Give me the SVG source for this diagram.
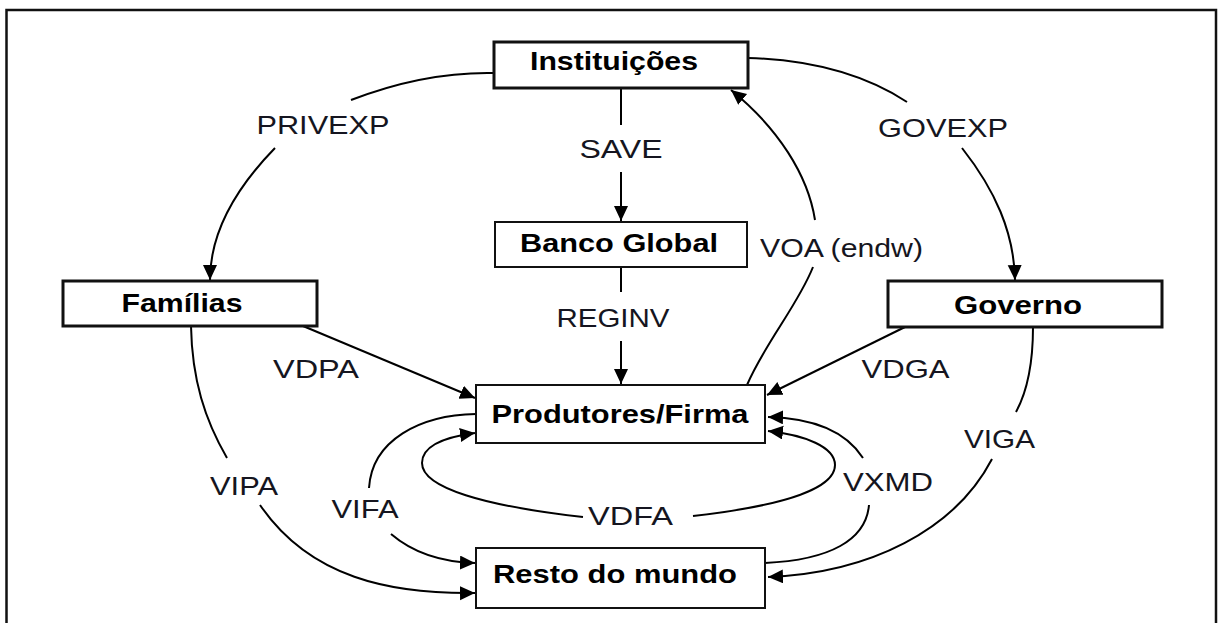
<svg xmlns="http://www.w3.org/2000/svg" width="1218" height="623" viewBox="0 0 1218 623">
<defs>
<marker id="ah" markerUnits="userSpaceOnUse" markerWidth="18" markerHeight="16" refX="15" refY="7" orient="auto">
<path d="M0,0 L15,7 L0,14 z" fill="#000"/>
</marker>
<style>
.frame{fill:none;stroke:#111;stroke-width:2.5}
.box{fill:#fff;stroke:#111;stroke-width:2}
.box.thick{stroke-width:3}
.nt{font-family:"Liberation Sans",Arial,sans-serif;font-weight:bold;font-size:26px;fill:#000;text-anchor:middle}
.lb{font-family:"Liberation Sans",Arial,sans-serif;font-size:26px;fill:#151520;text-anchor:middle}
.c{fill:none;stroke:#000;stroke-width:2}
.c.a{marker-end:url(#ah)}
</style>
</defs>
<rect width="1218" height="623" fill="#fff"/>
<path class="frame" d="M6.5,623 L6.5,10 L1216,10 L1216,623"/>

<g id="connectors">
<!-- PRIVEXP -->
<path class="c" d="M494,73 C445,72 395,83 351,100"/>
<path class="c a" d="M275,148 C238,186 210,230 210,280"/>
<!-- GOVEXP -->
<path class="c" d="M748,58 C820,60 870,78 907,102"/>
<path class="c a" d="M962,148 C995,190 1014,232 1015,280"/>
<!-- SAVE -->
<path class="c" d="M621,88 L621,125"/>
<path class="c a" d="M621,172 L621,221"/>
<!-- REGINV -->
<path class="c" d="M621,267 L621,292"/>
<path class="c a" d="M621,341 L621,384"/>
<!-- VOA -->
<path class="c" d="M747,385 C765,343 798,305 813,267"/>
<path class="c a" d="M815,220 C808,175 778,128 731,90"/>
<!-- VDPA -->
<path class="c a" d="M303,326 L475,398"/>
<!-- VDGA -->
<path class="c a" d="M905,327 L767,395"/>
<!-- VIPA -->
<path class="c" d="M191,326 C192,380 205,420 227,458"/>
<path class="c a" d="M260,505 C310,578 390,594 475,593"/>
<!-- VIFA -->
<path class="c" d="M476,414 C420,415 372,440 369,488"/>
<path class="c a" d="M391,534 C412,552 440,562 475,563"/>
<!-- VDFA loop -->
<path class="c a" d="M583,517 C485,506 422,488 422,463 C422,446 445,437 475,433"/>
<path class="c a" d="M693,516 C790,505 835,487 835,465 C835,447 805,435 768,431"/>
<!-- VXMD -->
<path class="c a" d="M863,458 C845,430 810,418 768,417"/>
<path class="c" d="M765,563 C830,560 866,540 869,505"/>
<!-- VIGA -->
<path class="c" d="M1033,327 C1033,360 1028,390 1016,412"/>
<path class="c a" d="M992,459 C955,530 870,573 768,577"/>
</g>

<g id="labels">
<text class="lb" x="323" y="134" textLength="133" lengthAdjust="spacingAndGlyphs">PRIVEXP</text>
<text class="lb" x="621" y="158" textLength="83" lengthAdjust="spacingAndGlyphs">SAVE</text>
<text class="lb" x="943" y="137" textLength="130" lengthAdjust="spacingAndGlyphs">GOVEXP</text>
<text class="lb" x="841.5" y="257" textLength="163" lengthAdjust="spacingAndGlyphs">VOA (endw)</text>
<text class="lb" x="613" y="327" textLength="113" lengthAdjust="spacingAndGlyphs">REGINV</text>
<text class="lb" x="316" y="378" textLength="86" lengthAdjust="spacingAndGlyphs">VDPA</text>
<text class="lb" x="905.5" y="378" textLength="88" lengthAdjust="spacingAndGlyphs">VDGA</text>
<text class="lb" x="999.5" y="448" textLength="71" lengthAdjust="spacingAndGlyphs">VIGA</text>
<text class="lb" x="244" y="495" textLength="68" lengthAdjust="spacingAndGlyphs">VIPA</text>
<text class="lb" x="365" y="518" textLength="67" lengthAdjust="spacingAndGlyphs">VIFA</text>
<text class="lb" x="888" y="491" textLength="90" lengthAdjust="spacingAndGlyphs">VXMD</text>
<text class="lb" x="630.5" y="525" textLength="85" lengthAdjust="spacingAndGlyphs">VDFA</text>
</g>

<g id="instituicoes">
<rect class="box thick" x="494" y="42" width="254" height="46"/>
<text class="nt" x="614" y="70" textLength="168" lengthAdjust="spacingAndGlyphs">Instituições</text>
</g>
<g id="banco-global">
<rect class="box" x="495" y="222" width="252" height="45"/>
<text class="nt" x="619" y="252" textLength="198" lengthAdjust="spacingAndGlyphs">Banco Global</text>
</g>
<g id="familias">
<rect class="box thick" x="63" y="281" width="254" height="45"/>
<text class="nt" x="182" y="312" textLength="121" lengthAdjust="spacingAndGlyphs">Famílias</text>
</g>
<g id="governo">
<rect class="box thick" x="888" y="281" width="274" height="46"/>
<text class="nt" x="1018" y="314" textLength="128" lengthAdjust="spacingAndGlyphs">Governo</text>
</g>
<g id="produtores">
<rect class="box" x="476" y="385" width="289" height="58"/>
<text class="nt" x="620" y="423" textLength="257" lengthAdjust="spacingAndGlyphs">Produtores/Firma</text>
</g>
<g id="resto-do-mundo">
<rect class="box" x="476" y="548" width="289" height="60"/>
<text class="nt" x="615" y="583" textLength="244" lengthAdjust="spacingAndGlyphs">Resto do mundo</text>
</g>
</svg>
